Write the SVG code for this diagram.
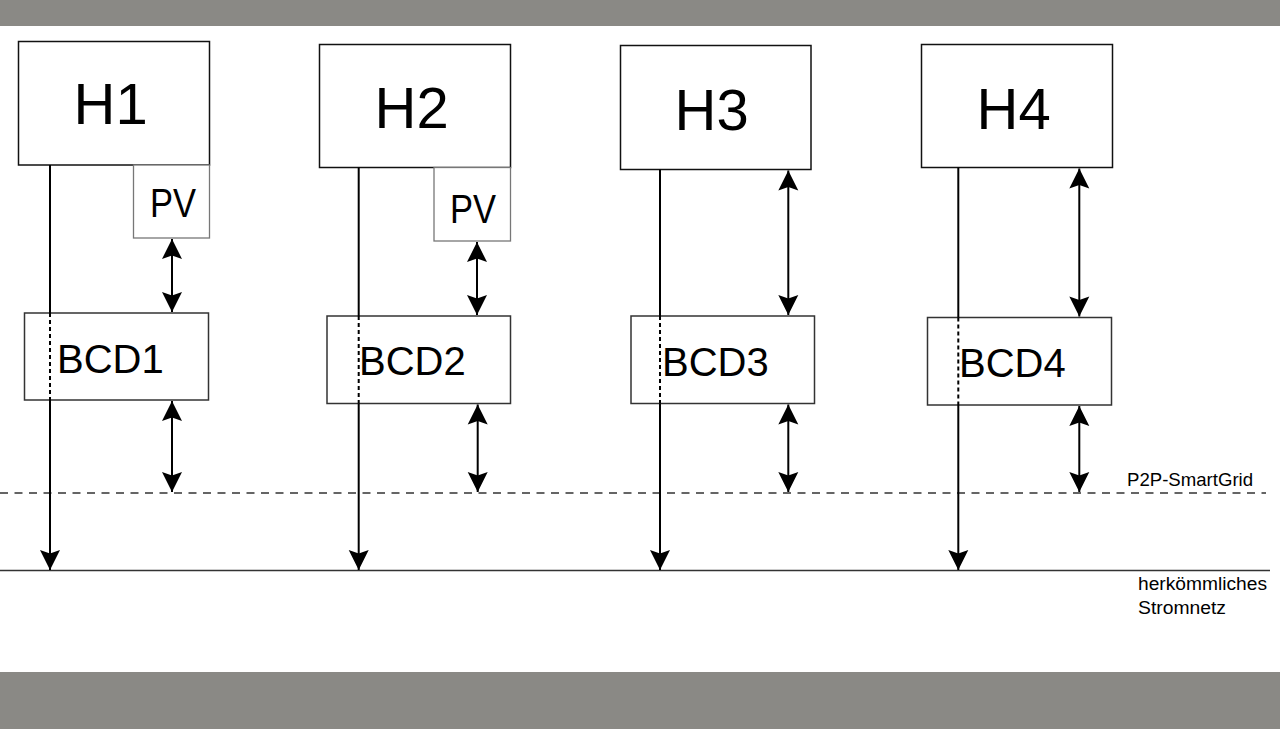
<svg xmlns="http://www.w3.org/2000/svg" width="1280" height="729" viewBox="0 0 1280 729">
<defs>
<style>
.bar{fill:#8a8985}
.house{fill:#fff;stroke:#111;stroke-width:1.5}
.pv{fill:#fff;stroke:#777;stroke-width:1.3}
.bcd{fill:#fff;stroke:#333;stroke-width:1.5}
.t{font-family:"Liberation Sans",Arial,Helvetica,sans-serif;fill:#000}
.th{font-size:58px}
.tb{font-size:40px}
.tp{font-size:40px}
.tl{font-size:18.6px}
.tn{font-size:17.5px}
.conn{stroke:#000;stroke-width:2;fill:none}
.inner{stroke:#000;stroke-width:2;fill:none;stroke-dasharray:4 3}
.dbl{stroke:#000;stroke-width:2;fill:none;marker-start:url(#ah);marker-end:url(#ah)}
.down{stroke:#000;stroke-width:2;fill:none;marker-end:url(#ah)}
.grid{stroke:#333;stroke-width:1.3;fill:none;stroke-dasharray:8 6.5}
.mains{stroke:#333;stroke-width:1.5;fill:none}
</style>
<marker id="ah" markerUnits="userSpaceOnUse" markerWidth="24" markerHeight="24" viewBox="-22 -12 24 24" refX="0" refY="0" orient="auto-start-reverse">
<path d="M0,0 L-20,-10 L-16.5,0 L-20,10 Z" fill="#000"/>
</marker>
</defs>
<rect width="1280" height="729" fill="#fff"/>
<rect class="bar" x="0" y="0" width="1280" height="26"/>
<rect class="bar" x="0" y="672" width="1280" height="57"/>

<g id="lines">
<line class="grid" x1="0" y1="493" x2="1266" y2="493"/>
<line class="mains" x1="0" y1="570.5" x2="1270" y2="570.5"/>
</g>

<g id="H1"><rect class="house" x="18.5" y="41.5" width="191" height="123.5"/><text class="t th" x="73.5" y="124">H1</text></g>
<g id="PV1"><rect class="pv" x="133.5" y="165" width="76" height="73"/><text class="t tp" x="150" y="217" textLength="46" lengthAdjust="spacingAndGlyphs">PV</text></g>
<g id="BCD1"><rect class="bcd" x="24.5" y="313" width="184" height="87"/><text class="t tb" x="57" y="373">BCD1</text></g>

<g id="H2"><rect class="house" x="319.5" y="44.5" width="191" height="123"/><text class="t th" x="374.5" y="127.5">H2</text></g>
<g id="PV2"><rect class="pv" x="434" y="167.5" width="76.5" height="73.5"/><text class="t tp" x="450" y="222.5" textLength="46" lengthAdjust="spacingAndGlyphs">PV</text></g>
<g id="BCD2"><rect class="bcd" x="327" y="316" width="183.5" height="87.5"/><text class="t tb" x="359" y="375">BCD2</text></g>

<g id="H3"><rect class="house" x="620.5" y="45.5" width="190.5" height="124"/><text class="t th" x="674.5" y="129.5">H3</text></g>
<g id="BCD3"><rect class="bcd" x="631" y="316" width="183.5" height="87.5"/><text class="t tb" x="662" y="376">BCD3</text></g>

<g id="H4"><rect class="house" x="921.5" y="44.5" width="191" height="123"/><text class="t th" x="976.5" y="128.5">H4</text></g>
<g id="BCD4"><rect class="bcd" x="927.5" y="317.5" width="184" height="87.5"/><text class="t tb" x="959" y="377">BCD4</text></g>

<g id="labels">
<text class="t tl" x="1127" y="485.5">P2P-SmartGrid</text>
<text class="t tn" x="1138" y="589.5" textLength="129" lengthAdjust="spacingAndGlyphs">herkömmliches</text>
<text class="t tn" x="1138" y="614" textLength="88" lengthAdjust="spacingAndGlyphs">Stromnetz</text>
</g>

<g id="connectors">
<line class="conn" x1="50" y1="165" x2="50" y2="313"/>
<line class="inner" x1="50" y1="313" x2="50" y2="400"/>
<line class="down" x1="50" y1="400" x2="50" y2="570"/>
<line class="dbl" x1="172" y1="239" x2="172" y2="312"/>
<line class="dbl" x1="172" y1="401" x2="172" y2="492"/>

<line class="conn" x1="358.7" y1="167.5" x2="358.7" y2="316"/>
<line class="inner" x1="358.7" y1="316" x2="358.7" y2="403.5"/>
<line class="down" x1="358.7" y1="403.5" x2="358.7" y2="570"/>
<line class="dbl" x1="477" y1="242" x2="477" y2="315"/>
<line class="dbl" x1="477.7" y1="404.5" x2="477.7" y2="492"/>

<line class="conn" x1="660" y1="169.5" x2="660" y2="316"/>
<line class="inner" x1="660" y1="316" x2="660" y2="403.5"/>
<line class="down" x1="660" y1="403.5" x2="660" y2="570"/>
<line class="dbl" x1="788.3" y1="170.5" x2="788.3" y2="315"/>
<line class="dbl" x1="788.3" y1="404.5" x2="788.3" y2="492"/>

<line class="conn" x1="958.3" y1="167.5" x2="958.3" y2="317.5"/>
<line class="inner" x1="958.3" y1="317.5" x2="958.3" y2="405"/>
<line class="down" x1="958.3" y1="405" x2="958.3" y2="570"/>
<line class="dbl" x1="1079.3" y1="168.5" x2="1079.3" y2="316.5"/>
<line class="dbl" x1="1079.3" y1="406" x2="1079.3" y2="492"/>
</g>
</svg>
